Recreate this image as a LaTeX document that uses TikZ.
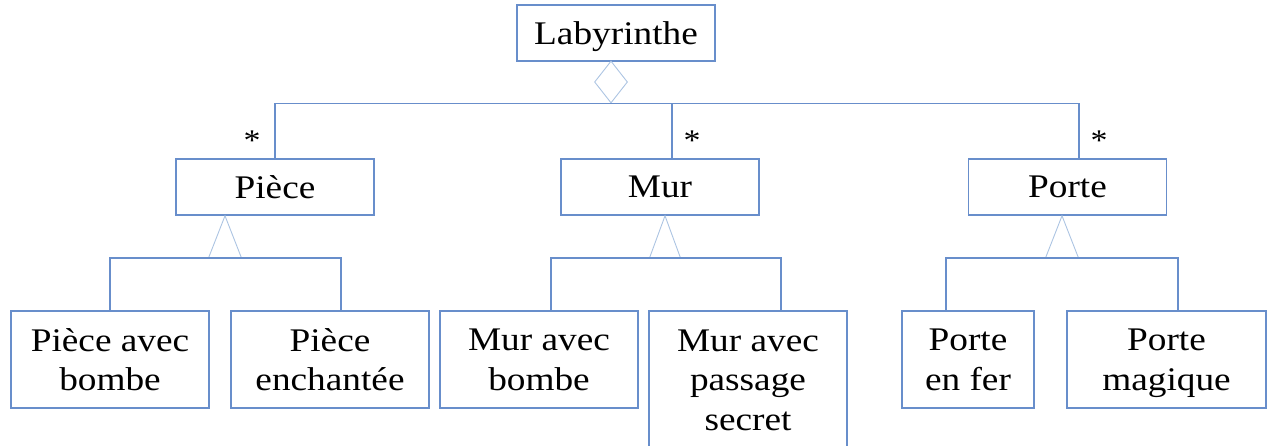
\documentclass[tikz,border=0pt]{standalone}
\usepackage{fontspec}
\setmainfont[FakeStretch=1.13]{Liberation Serif}
\usetikzlibrary{shapes.geometric,calc}
\definecolor{boxblue}{RGB}{104,142,203}
\definecolor{lightblue}{RGB}{172,196,226}
% uniform height for the first line of every label
\newcommand\firstline{\rule{0pt}{22pt}}
\begin{document}
\begin{tikzpicture}[x=1pt,y=-1pt,
  classbox/.style={draw=boxblue, line width=1.6pt, fill=white, align=center,
    inner sep=0pt, minimum height=56pt, minimum width=198pt,
    text depth=0pt, execute at begin node=\firstline,
    font=\fontsize{33}{39.5}\selectfont},
  subbox/.style={classbox, minimum height=97pt},
  conn/.style={draw=boxblue, line width=1.6pt},
  tri/.style={draw=lightblue, line width=0.9pt, line join=miter},
  mult/.style={inner sep=0pt, font=\fontsize{30}{30}\selectfont}]
\clip (0,0) rectangle (1268,446);

% class boxes
\node[classbox] (lab)   at (616,33)    {Labyrinthe};
\node[classbox] (piece) at (275,187)   {Pièce};
\node[classbox] (mur)   at (660,187)   {Mur};
\node[classbox] (porte) at (1067.5,187) {Porte};

\node[subbox] (pab) at (110,359.5)   {Pièce avec\\bombe};
\node[subbox] (pen) at (330,359.5)   {Pièce\\enchantée};
\node[subbox] (mab) at (539,359.5)   {Mur avec\\bombe};
\node[subbox, minimum height=138pt] (mps) at (748,380) {Mur avec\\passage\\secret};
\node[subbox, minimum width=132pt] (pfe) at (968,359.5)   {Porte\\en fer};
\node[subbox, minimum width=199pt] (pma) at (1166.5,359.5) {Porte\\magique};

% aggregation diamond and its branches
\node[diamond, draw=lightblue, line width=0.9pt, inner sep=0pt,
      minimum width=33pt, minimum height=42pt] (dia) at (611,82) {};
\coordinate (murtop)   at (672,159);
\coordinate (portetop) at (1079,159);
\draw[conn] (dia.south) -| (piece.north);
\draw[conn] (dia.south) -| (murtop);
\draw[conn] (dia.south) -| (portetop);

% multiplicities
\node[mult] (m1) at (252,141) {*};
\node[mult] (m2) at (692,141) {*};
\node[mult] (m3) at (1099,141) {*};

% generalisation: Pièce
\coordinate (pg) at (225,258);
\draw[tri] ($(pg)+(-16.5,0)$) -- (pg |- piece.south) -- ($(pg)+(16.5,0)$);
\draw[conn] (pab.north) |- (pg);
\draw[conn] ($(pen.north)+(11,0)$) |- (pg);

% generalisation: Mur
\coordinate (mg) at (665,258);
\draw[tri] ($(mg)+(-15.5,0)$) -- (mg |- mur.south) -- ($(mg)+(15.5,0)$);
\draw[conn] ($(mab.north)+(12,0)$) |- (mg);
\draw[conn] ($(mps.north)+(33,0)$) |- (mg);

% generalisation: Porte
\coordinate (og) at (1062,258);
\draw[tri] ($(og)+(-16.5,0)$) -- (og |- porte.south) -- ($(og)+(16.5,0)$);
\draw[conn] ($(pfe.north)+(-22,0)$) |- (og);
\draw[conn] ($(pma.north)+(11.5,0)$) |- (og);
\end{tikzpicture}
\end{document}
